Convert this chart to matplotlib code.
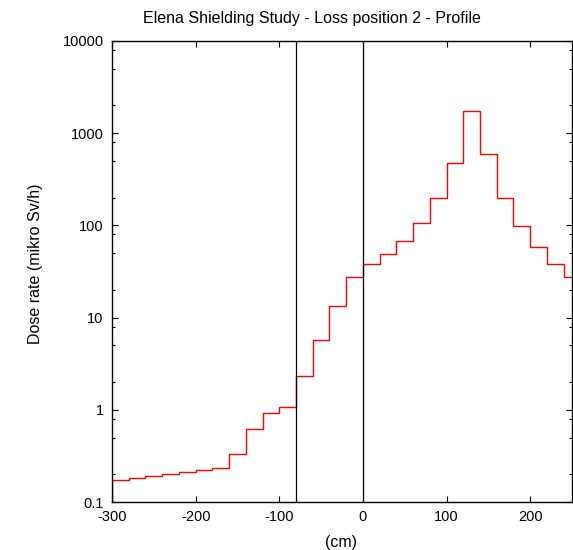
import matplotlib
matplotlib.use("Agg")
import matplotlib.pyplot as plt
from matplotlib.ticker import FixedLocator, NullFormatter

# 20 cm bins along the profile, dose rate in microSv/h
bin_edges = list(range(-300, 280, 20))
dose_rate = [0.173, 0.181, 0.191, 0.203, 0.210, 0.221, 0.236, 0.334, 0.614, 0.923,
             1.06, 2.34, 5.75, 13.3, 27.8, 38.1, 48.5, 67.1, 105, 197,
             471, 1754, 594, 200, 97.7, 58.3, 38.5, 27.5]
wall_positions = [-80, 0]
x_ticks = [-300, -200, -100, 0, 100, 200]
y_ticks = [0.1, 1, 10, 100, 1000, 10000]

plt.rcParams["font.family"] = ["Liberation Sans", "DejaVu Sans"]
plt.rcParams["font.size"] = 10.5
plt.rcParams["axes.unicode_minus"] = False

W, H = 573, 550
fig = plt.figure(figsize=(W / 100, H / 100), dpi=100)
ax = fig.add_axes([112 / W, 48 / H, 460 / W, 461 / H])

ax.stairs(dose_rate, bin_edges, color="red", linewidth=1.0)
for x in wall_positions:
    ax.axvline(x, color="black", linewidth=0.9)

ax.set_yscale("log")
ax.set_xlim(-300, 250)
ax.set_ylim(0.1, 10000)
ax.set_xticks(x_ticks)
ax.set_xticklabels([str(t) for t in x_ticks])
ax.set_yticks(y_ticks)
ax.set_yticklabels([f"{t:g}" for t in y_ticks])
minors = [m * 10.0 ** e for e in range(-1, 4) for m in (2, 5, 8)]
ax.yaxis.set_minor_locator(FixedLocator(minors))
ax.yaxis.set_minor_formatter(NullFormatter())
ax.tick_params(which="both", direction="in", top=True, right=True, width=0.8)
ax.tick_params(which="major", length=4.5, pad=6)
ax.tick_params(which="minor", length=2.5)
for s in ax.spines.values():
    s.set_linewidth(1.0)

fig.text(312 / W, 1 - 18 / H, "Elena Shielding Study - Loss position 2 - Profile",
         ha="center", va="center", fontsize=11.5)
fig.text(341 / W, 1 - 542 / H, "(cm)", ha="center", va="center", fontsize=11.5)
fig.text(36 / W, 1 - 264 / H, "Dose rate (mikro Sv/h)", ha="center", va="center",
         rotation=90, fontsize=11.5)

fig.savefig("out.png", dpi=100, facecolor="white")
